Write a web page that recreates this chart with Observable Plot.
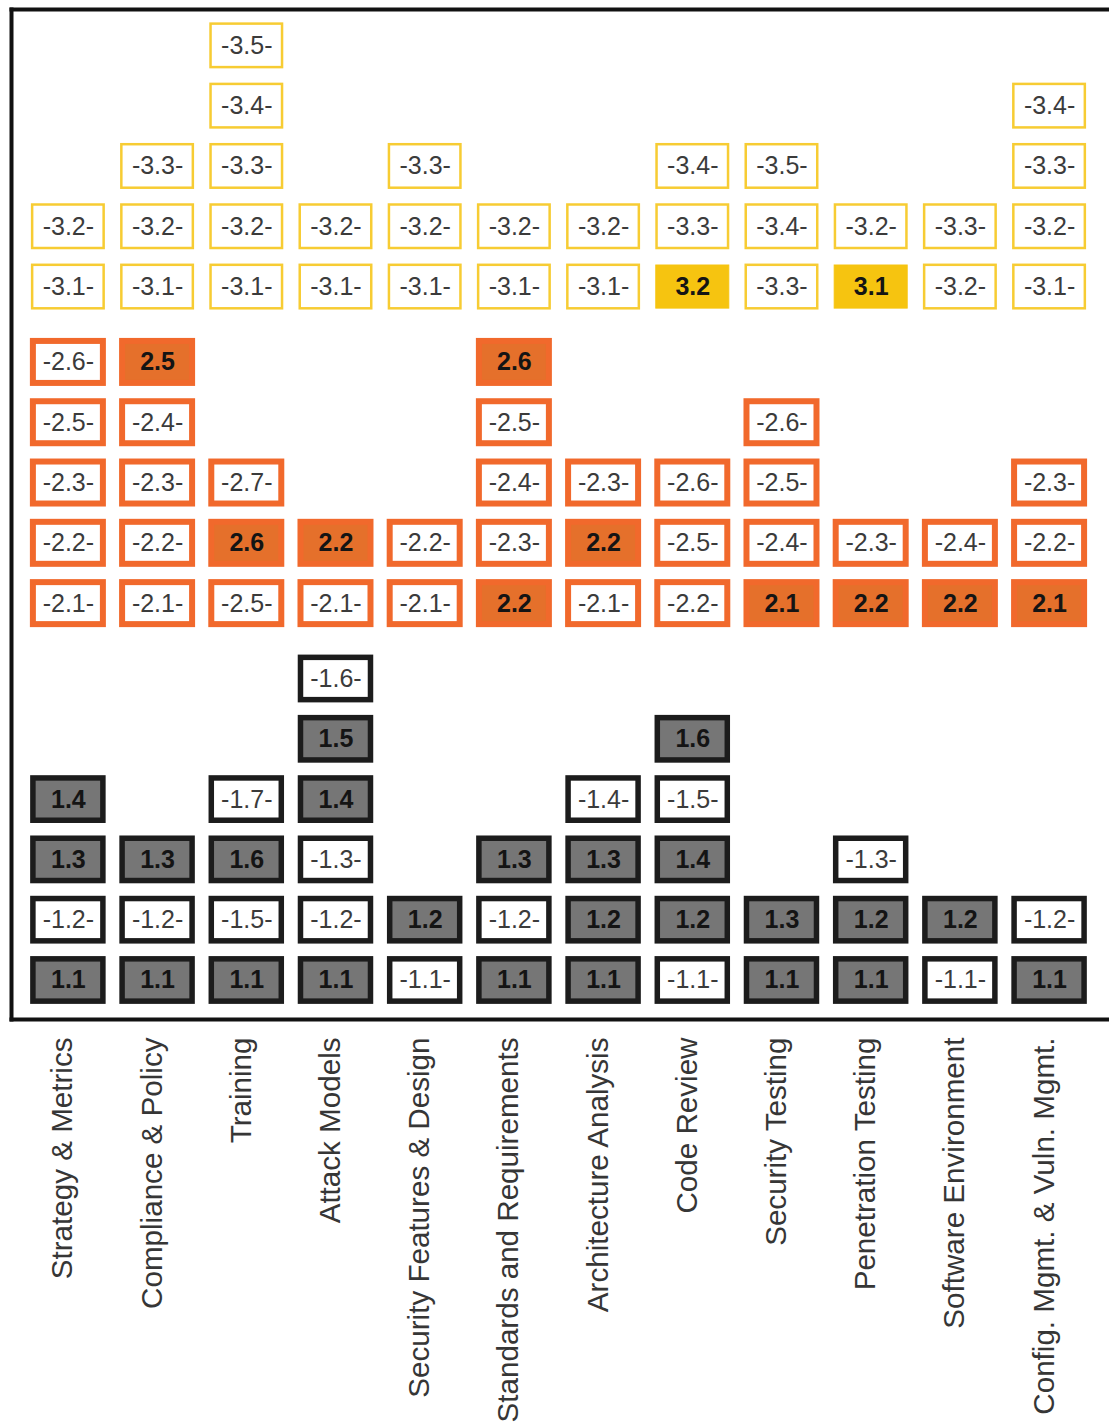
<!DOCTYPE html>
<html><head><meta charset="utf-8">
<script src="https://cdn.jsdelivr.net/npm/d3@7"></script>
<script src="https://cdn.jsdelivr.net/npm/@observablehq/plot@0.6"></script>
<style>body{margin:0;background:#fff;} #chart svg{display:block;}</style>
</head><body><div id="chart"></div>
<script>
const practices = [
  "Strategy & Metrics", "Compliance & Policy", "Training", "Attack Models",
  "Security Features & Design", "Standards and Requirements", "Architecture Analysis",
  "Code Review", "Security Testing", "Penetration Testing", "Software Environment",
  "Config. Mgmt. & Vuln. Mgmt."
];
// activities per practice, bottom to top; "-x.y-" = not observed, "x.y" = highlighted
const level1 = [
  ["1.1", "-1.2-", "1.3", "1.4"],
  ["1.1", "-1.2-", "1.3"],
  ["1.1", "-1.5-", "1.6", "-1.7-"],
  ["1.1", "-1.2-", "-1.3-", "1.4", "1.5", "-1.6-"],
  ["-1.1-", "1.2"],
  ["1.1", "-1.2-", "1.3"],
  ["1.1", "1.2", "1.3", "-1.4-"],
  ["-1.1-", "1.2", "1.4", "-1.5-", "1.6"],
  ["1.1", "1.3"],
  ["1.1", "1.2", "-1.3-"],
  ["-1.1-", "1.2"],
  ["1.1", "-1.2-"]
];
const level2 = [
  ["-2.1-", "-2.2-", "-2.3-", "-2.5-", "-2.6-"],
  ["-2.1-", "-2.2-", "-2.3-", "-2.4-", "2.5"],
  ["-2.5-", "2.6", "-2.7-"],
  ["-2.1-", "2.2"],
  ["-2.1-", "-2.2-"],
  ["2.2", "-2.3-", "-2.4-", "-2.5-", "2.6"],
  ["-2.1-", "2.2", "-2.3-"],
  ["-2.2-", "-2.5-", "-2.6-"],
  ["2.1", "-2.4-", "-2.5-", "-2.6-"],
  ["2.2", "-2.3-"],
  ["2.2", "-2.4-"],
  ["2.1", "-2.2-", "-2.3-"]
];
const level3 = [
  ["-3.1-", "-3.2-"],
  ["-3.1-", "-3.2-", "-3.3-"],
  ["-3.1-", "-3.2-", "-3.3-", "-3.4-", "-3.5-"],
  ["-3.1-", "-3.2-"],
  ["-3.1-", "-3.2-", "-3.3-"],
  ["-3.1-", "-3.2-"],
  ["-3.1-", "-3.2-"],
  ["3.2", "-3.3-", "-3.4-"],
  ["-3.3-", "-3.4-", "-3.5-"],
  ["3.1", "-3.2-"],
  ["-3.2-", "-3.3-"],
  ["-3.1-", "-3.2-", "-3.3-", "-3.4-"]
];

const levelOffset = {1: 0, 2: 6.25, 3: 11.5};
const boxes = [];
practices.forEach((p, i) => {
  [level1, level2, level3].forEach((lv, L) => {
    lv[i].forEach((label, k) => {
      boxes.push({practice: p, level: L + 1, row: k + 1, label, filled: !label.startsWith("-")});
    });
  });
});
const pos = d => d.row + levelOffset[d.level];
const sel = (level, filled) => boxes.filter(d => d.level === level && d.filled === filled);

const boxStyles = [
  {level: 3, filled: false, fill: "#ffffff", stroke: "#f7cc33", sw: 2.5, inX: 8.85, inY: 8.4},
  {level: 3, filled: true,  fill: "#f6c410", stroke: "#f6c410", sw: 1,   inX: 8.1,  inY: 8.6},
  {level: 2, filled: false, fill: "#ffffff", stroke: "#f1692c", sw: 6,   inX: 9.6,  inY: 9.15},
  {level: 2, filled: true,  fill: "#e5702b", stroke: "#f1692c", sw: 6,   inX: 9.6,  inY: 9.15},
  {level: 1, filled: false, fill: "#ffffff", stroke: "#1c1c1c", sw: 5.5, inX: 9.6,  inY: 9.0},
  {level: 1, filled: true,  fill: "#767676", stroke: "#1c1c1c", sw: 5.5, inX: 9.6,  inY: 9.0}
];
const boxMarks = boxStyles.map(s => Plot.barY(sel(s.level, s.filled), {
  x: "practice", y1: d => pos(d) - 0.5, y2: d => pos(d) + 0.5,
  fill: s.fill, stroke: s.stroke, strokeWidth: s.sw,
  insetLeft: s.inX, insetRight: s.inX, insetTop: s.inY, insetBottom: s.inY
}));

const font = "'Liberation Sans', Arial, Helvetica, sans-serif";
const chart = Plot.plot({
  width: 1109, height: 1427,
  marginLeft: 11, marginRight: 2, marginTop: 9, marginBottom: 408,
  style: {fontFamily: font, background: "#fff"},
  x: {domain: practices, paddingInner: 0, paddingOuter: 0.1435, align: 0.48, round: false, axis: null},
  y: {domain: [0.353, 17.103], axis: null},
  marks: [
    ...boxMarks,
    Plot.text(boxes.filter(d => !d.filled), {x: "practice", y: pos, text: "label", fontSize: 25, fill: "#3b3b3b", fontFamily: font}),
    Plot.text(boxes.filter(d => d.filled), {x: "practice", y: pos, text: "label", fontSize: 25, fontWeight: "bold", fill: "#141414", fontFamily: font}),
    Plot.frame({anchor: "left", strokeWidth: 4, stroke: "#111"}),
    Plot.frame({anchor: "top", strokeWidth: 4, stroke: "#111"}),
    Plot.frame({anchor: "bottom", strokeWidth: 4, stroke: "#111"}),
    Plot.axisX({anchor: "bottom", tickRotate: -90, tickSize: 0, tickPadding: 18, dx: -5.5, fontSize: 29.6, color: "#363636", label: null, fontFamily: font})
  ]
});
document.getElementById("chart").appendChild(chart);
</script>
</body></html>
